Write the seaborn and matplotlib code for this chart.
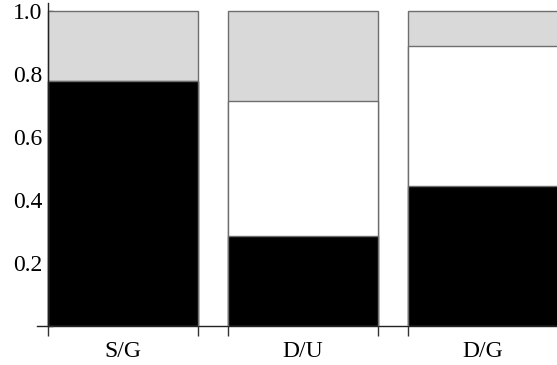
import matplotlib
matplotlib.use("Agg")
import matplotlib.pyplot as plt
from matplotlib.ticker import MultipleLocator, FixedLocator
import numpy as np
import pandas as pd
import seaborn as sns

# Proportions per group (bottom to top: black, white, gray)
groups = ["S/G", "D/U", "D/G"]
black_share = [0.778, 0.286, 0.444]
white_share = [0.0, 0.428, 0.445]
gray_share = [0.222, 0.286, 0.111]
y_ticks = [0.2, 0.4, 0.6, 0.8, 1.0]
y_tick_labels = ["0.2", "0.4", "0.6", "0.8", "1.0"]

df = pd.DataFrame({"group": groups, "black": black_share,
                   "white": white_share, "gray": gray_share})
df["lvl1"] = df["black"]
df["lvl2"] = df["black"] + df["white"]
df["lvl3"] = df["lvl2"] + df["gray"]

plt.rcParams["font.family"] = ["Liberation Serif", "DejaVu Serif"]

W, H = 557, 365
fig = plt.figure(figsize=(W / 100, H / 100), dpi=100)
ax_left, ax_right, ax_bottom, ax_top = 37, 557, 325.5, 3
ax = fig.add_axes([ax_left / W, (H - ax_bottom) / H,
                   (ax_right - ax_left) / W, (ax_bottom - ax_top) / H])

bar_w = 150 / 180
edge = "#6e6e6e"
for col, fill in [("lvl3", "#d9d9d9"), ("lvl2", "white"), ("lvl1", "black")]:
    sns.barplot(data=df, x="group", y=col, color=fill, width=bar_w,
                edgecolor=edge, linewidth=1.0, saturation=1, ax=ax, zorder=2)

unit = 180.0
x_left = -bar_w / 2 - 11 / unit
ax.set_xlim(x_left, x_left + (ax_right - ax_left) / unit)
ax.set_ylim(0, (ax_bottom - ax_top) / 314.5)

for s in ["top", "right"]:
    ax.spines[s].set_visible(False)
ax.spines["left"].set_position(("data", -bar_w / 2))
ax.spines["left"].set_zorder(3)
ax.spines["bottom"].set_zorder(1)
for s in ["left", "bottom"]:
    ax.spines[s].set_color("#222222")
    ax.spines[s].set_linewidth(1.0)

ax.set_xlabel("")
ax.set_ylabel("")

# y axis: labelled majors, unlabelled minors every 0.05, ticks point inward
ax.yaxis.set_major_locator(FixedLocator(y_ticks))
ax.set_yticklabels(y_tick_labels)
ax.yaxis.set_minor_locator(MultipleLocator(0.05))
ax.tick_params(axis="y", which="both", direction="in", length=3.5,
               width=1.0, color="#333333", labelsize=17, pad=4)

# x axis: labels at bar centres, tick marks at bar edges
centers = np.arange(len(groups))
edges = np.concatenate([centers - bar_w / 2, centers + bar_w / 2])
ax.set_xticks(centers)
ax.set_xticklabels(groups)
ax.xaxis.set_minor_locator(FixedLocator(sorted(edges)))
ax.tick_params(axis="x", which="major", length=0, labelsize=17, pad=11)
ax.tick_params(axis="x", which="minor", direction="out", length=7,
               width=1.0, color="#333333")

fig.savefig("out.png", dpi=100)
